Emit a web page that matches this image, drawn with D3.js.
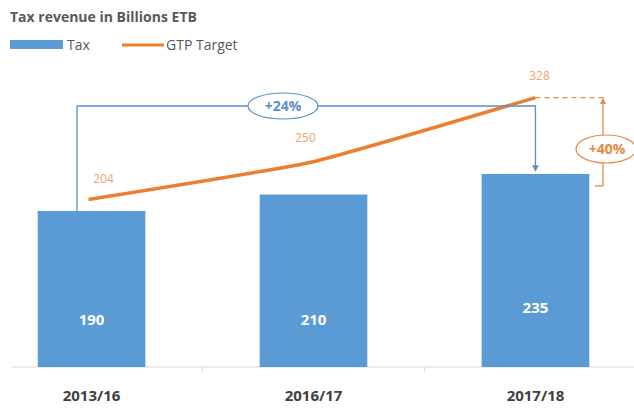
<!DOCTYPE html>
<html><head><meta charset="utf-8">
<script src="https://cdn.jsdelivr.net/npm/d3@7"></script>
<style>body{margin:0;background:#fff}svg{display:block}text{font-family:"Open Sans",sans-serif}</style>
</head><body>
<svg id="c" width="634" height="410"></svg>
<script>
const categories = ["2013/16", "2016/17", "2017/18"];
const taxValues = [190, 210, 235];
const targetValues = [204, 250, 328];
const growthLabels = ["+24%", "+40%"];

const svg = d3.select("#c");
const baseY = 367;
const x = d3.scaleBand().domain(categories).range([-20, 647]).paddingInner(0.515).paddingOuter(0.26);
const y = d3.scaleLinear().domain([0, 235]).range([baseY, 174]);
const blue = "#5b9bd5", orange = "#ed7d31";

svg.append("text").attr("x", 10).attr("y", 22).attr("font-size", 14).attr("font-weight", "bold")
  .attr("fill", "#595959").text("Tax revenue in Billions ETB");
// legend
svg.append("rect").attr("x", 10).attr("y", 40).attr("width", 53).attr("height", 9).attr("fill", blue);
svg.append("text").attr("x", 67).attr("y", 50).attr("font-size", 14).attr("fill", "#595959").text("Tax");
svg.append("line").attr("x1", 122).attr("x2", 164).attr("y1", 45).attr("y2", 45).attr("stroke", orange).attr("stroke-width", 3);
svg.append("text").attr("x", 166).attr("y", 50).attr("font-size", 14).attr("fill", "#595959").text("GTP Target");

// axis
const axis = d3.axisBottom(x).tickSize(0).tickFormat(d => d);
const ag = svg.append("g").attr("transform", `translate(0,${baseY})`).call(axis);
ag.select(".domain").remove();
ag.selectAll("text").remove();
svg.append("line").attr("x1", 12).attr("x2", 634).attr("y1", baseY).attr("y2", baseY).attr("stroke", "#d9d9d9");
const step = x.step();
[1, 2].forEach(i => {
  const tx = x(categories[i]) - (step - x.bandwidth()) / 2;
  svg.append("line").attr("x1", tx).attr("x2", tx).attr("y1", baseY).attr("y2", baseY + 5).attr("stroke", "#d9d9d9");
});
svg.selectAll(".cat").data(categories).join("text").attr("class", "cat")
  .attr("x", d => x(d) + x.bandwidth() / 2).attr("y", 401).attr("text-anchor", "middle")
  .attr("font-size", 15).attr("font-weight", "bold").attr("fill", "#404040").text(d => d);

// bars
svg.selectAll(".bar").data(taxValues).join("rect").attr("class", "bar")
  .attr("x", (d, i) => x(categories[i])).attr("width", x.bandwidth())
  .attr("y", d => y(d)).attr("height", d => baseY - y(d)).attr("fill", blue);
svg.selectAll(".bl").data(taxValues).join("text").attr("class", "bl")
  .attr("x", (d, i) => x(categories[i]) + x.bandwidth() / 2)
  .attr("y", (d, i) => i === 2 ? 313 : 325).attr("text-anchor", "middle")
  .attr("font-size", 15).attr("font-weight", "bold").attr("fill", "#fff").text(d => d);

const cx = i => x(categories[i]) + x.bandwidth() / 2;

// line
const line = d3.line().x((d, i) => cx(i) + (i === 0 ? -3 : 0)).y(d => y(d)).curve(d3.curveCardinal.tension(0.6));
svg.append("path").datum(targetValues).attr("d", line).attr("fill", "none").attr("stroke", orange).attr("stroke-width", 3.5);
const lblOff = [[12, -16], [-8, -20], [4, -18]];
svg.selectAll(".tl").data(targetValues).join("text").attr("class", "tl")
  .attr("x", (d, i) => cx(i) + lblOff[i][0]).attr("y", (d, i) => y(d) + lblOff[i][1])
  .attr("text-anchor", "middle").attr("font-size", 12).attr("fill", "#f0a470").text(d => d);

// defs
const defs = svg.append("defs");
defs.append("marker").attr("id", "ab").attr("viewBox", "0 0 10 10").attr("refX", 9).attr("refY", 5)
  .attr("markerWidth", 5).attr("markerHeight", 5).attr("orient", "auto")
  .append("path").attr("d", "M0,0L10,5L0,10z").attr("fill", "#5b8fc6");
defs.append("marker").attr("id", "ao").attr("viewBox", "0 0 10 10").attr("refX", 9).attr("refY", 5)
  .attr("markerWidth", 5).attr("markerHeight", 5).attr("orient", "auto")
  .append("path").attr("d", "M0,0L10,5L0,10z").attr("fill", "#e8894a");

// blue bracket
const bx0 = 77, bY = 106, bx1 = cx(2);
svg.append("path").attr("d", `M${bx0},${y(taxValues[0])}V${bY}H${bx1}V${y(taxValues[2]) - 3}`)
  .attr("fill", "none").attr("stroke", "#5b8fc6").attr("stroke-width", 1.3).attr("marker-end", "url(#ab)");
svg.append("ellipse").attr("cx", 283).attr("cy", bY).attr("rx", 35).attr("ry", 13)
  .attr("fill", "#fff").attr("stroke", "#5b8fc6").attr("stroke-width", 1.2);
svg.append("text").attr("x", 283).attr("y", bY + 5).attr("text-anchor", "middle").attr("font-size", 14)
  .attr("font-weight", "bold").attr("fill", "#5b8fc6").text(growthLabels[0]);

// orange annotation
const oy = y(targetValues[2]), ax = 603;
svg.append("line").attr("x1", cx(2)).attr("x2", ax + 4).attr("y1", oy).attr("y2", oy)
  .attr("stroke", "#e8894a").attr("stroke-width", 1.3).attr("stroke-dasharray", "5,4");
svg.append("line").attr("x1", ax).attr("x2", ax).attr("y1", 186).attr("y2", oy + 1)
  .attr("stroke", "#e8894a").attr("stroke-width", 1.3).attr("marker-end", "url(#ao)");
svg.append("line").attr("x1", 595).attr("x2", ax).attr("y1", 186).attr("y2", 186)
  .attr("stroke", "#e8894a").attr("stroke-width", 1.3);
svg.append("ellipse").attr("cx", 606).attr("cy", 149).attr("rx", 30).attr("ry", 14)
  .attr("fill", "#fff").attr("stroke", "#e8894a").attr("stroke-width", 1.2);
svg.append("text").attr("x", 607).attr("y", 154).attr("text-anchor", "middle").attr("font-size", 14)
  .attr("font-weight", "bold").attr("fill", "#e8894a").text(growthLabels[1]);
</script>
</body></html>
